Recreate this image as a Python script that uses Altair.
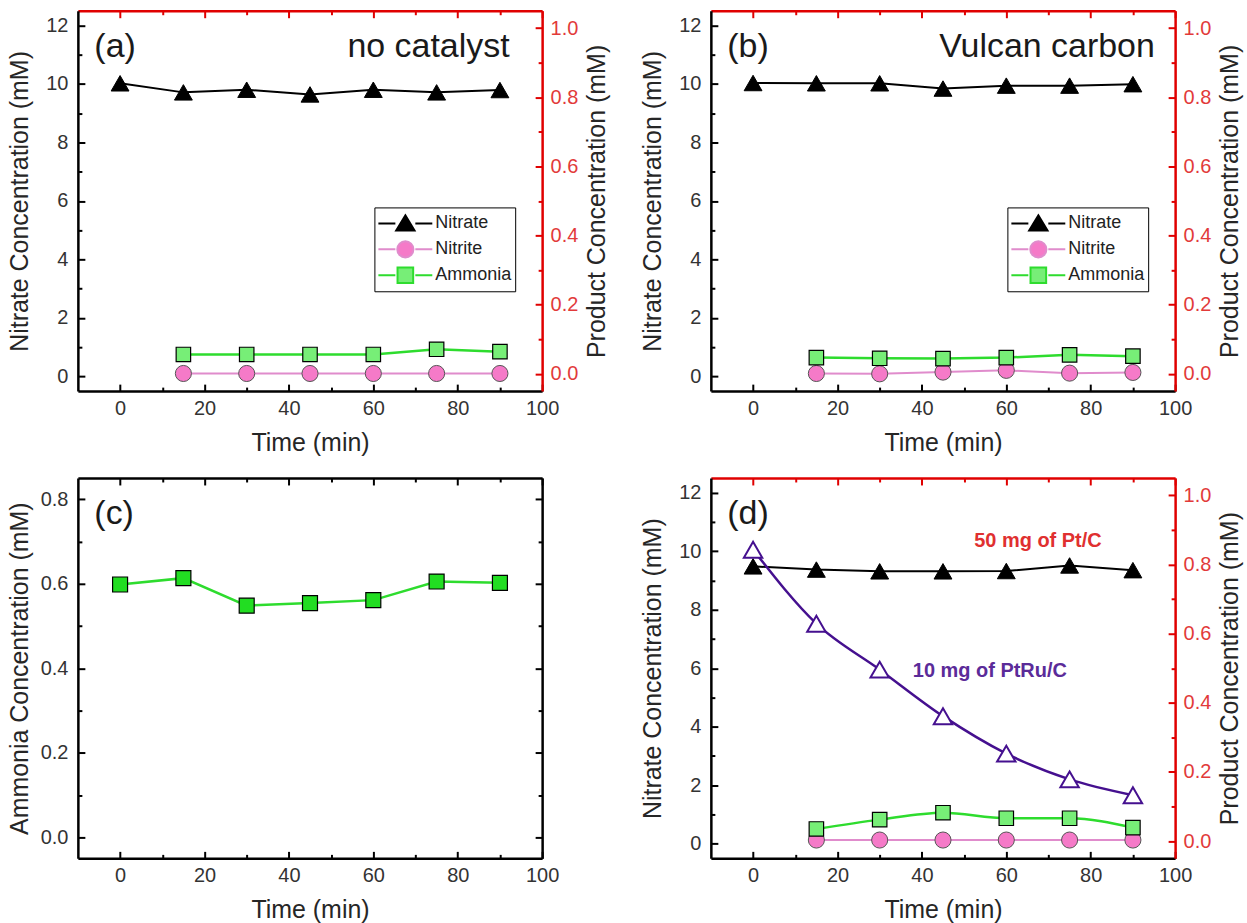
import altair as alt
import pandas as pd

# ---------------- data ----------------
TIME = [0, 15, 30, 45, 60, 75, 90]
TIME_PRODUCT = [15, 30, 45, 60, 75, 90]

A_NITRATE = [10.02, 9.71, 9.80, 9.64, 9.80, 9.71, 9.79]
A_NITRITE = [0.001, 0.001, 0.001, 0.001, 0.001, 0.001]
A_AMMONIA = [0.056, 0.056, 0.056, 0.056, 0.071, 0.064]

B_NITRATE = [10.03, 10.02, 10.02, 9.84, 9.94, 9.94, 9.99]
B_NITRITE = [0.001, 0.0, 0.005, 0.010, 0.002, 0.004]
B_AMMONIA = [0.047, 0.045, 0.044, 0.047, 0.055, 0.051]

C_AMMONIA = [0.598, 0.613, 0.548, 0.554, 0.561, 0.605, 0.602]

D_NITRATE_PT = [9.48, 9.37, 9.31, 9.31, 9.32, 9.51, 9.35]
D_NITRATE_PTRU = [10.05, 7.52, 5.95, 4.36, 3.08, 2.20, 1.66]
D_NITRITE = [0.003, 0.003, 0.003, 0.003, 0.003, 0.003]
D_AMMONIA = [0.035, 0.062, 0.082, 0.066, 0.066, 0.039]

SERIES = ["Nitrate", "Nitrite", "Ammonia"]

X_MAJOR = [0, 20, 40, 60, 80, 100]
X_MINOR = [10, 30, 50, 70, 90]
N_MAJOR = [0, 2, 4, 6, 8, 10, 12]
N_MINOR = [1, 3, 5, 7, 9, 11]
P_MAJOR = [0.0, 0.2, 0.4, 0.6, 0.8, 1.0]
P_MINOR = [0.1, 0.3, 0.5, 0.7, 0.9]
C_MAJOR = [0.0, 0.2, 0.4, 0.6, 0.8]
C_MINOR = [0.1, 0.3, 0.5, 0.7]

# ---------------- style ----------------
FONT = "Liberation Sans"
W, H = 465, 381
X_DOM = [-10, 100]
N_DOM = [-0.5, 12.5]
P_DOM = [-0.05, 1.05]
C_DOM = [-0.05, 0.85]

BLACK = "#000000"
RED = "#e00000"
RED_LABEL = "#e23a3a"
LABEL = "#333333"
TITLE = "#262626"
PINK_LINE = "#e08ccc"
PINK_FILL = "#f57ac8"
GREEN_LINE = "#2edc2e"
GREEN_FILL = "#77ee77"
GREEN_C = "#22dd22"
PURPLE = "#45108f"
PURPLE_TEXT = "#5b2b99"
RED_TEXT = "#e03030"

MAJ, MIN = 7, 4


def sc(dom):
    return alt.Scale(domain=dom, nice=False, zero=False)


def frame(xs, ys):
    return pd.DataFrame({"t": xs, "v": ys})


ONE = pd.DataFrame({"k": [0]})


def major_axis(orient, values, color, fmt=None, label_color=None, title=None, pad=8, tpos=None):
    kw = dict(orient=orient, values=values, offset=-MAJ, tickSize=MAJ, tickWidth=2,
              tickColor=color, domain=False, grid=False)
    if label_color:
        kw.update(labels=True, format=fmt, labelFont=FONT, labelFontSize=20,
                  labelColor=label_color, labelPadding=pad, labelFlush=False,
                  labelOverlap=False)
    else:
        kw.update(labels=False)
    if title:
        kw.update(title=title, titleFont=FONT, titleFontSize=25, titleFontWeight="normal",
                  titleColor=TITLE)
        kw.update(tpos)
    else:
        kw["title"] = None
    return alt.Axis(**kw)


def minor_axis(orient, values, color):
    return alt.Axis(orient=orient, values=values, offset=-MIN, tickSize=MIN, tickWidth=2,
                    tickColor=color, domain=False, grid=False, labels=False, title=None)


def domain_axis(orient, color):
    return alt.Axis(orient=orient, domain=True, domainColor=color, domainWidth=2.5,
                    ticks=False, labels=False, grid=False, title=None)


LEFT_T = dict(titleX=-57, titleAngle=-90, titleBaseline="alphabetic", titleAlign="center")
RIGHT_T = dict(titleX=69, titleAngle=-90, titleBaseline="alphabetic", titleAlign="center")
BOTTOM_T = dict(titleY=66, titleBaseline="alphabetic", titleAlign="center")


def axis_layers(data, ys, side, color, ymaj, ymin, yfmt=None, ylab=None, ytitle=None):
    if side == "left":
        yo, xo = "left", "bottom"
        ymj = major_axis(yo, ymaj, color, yfmt, ylab, ytitle, 10, LEFT_T)
        xmj = major_axis(xo, X_MAJOR, color, "d", LABEL, "Time (min)", 7, BOTTOM_T)
    else:
        yo, xo = "right", "top"
        ymj = major_axis(yo, ymaj, color, yfmt, ylab, ytitle, 8, RIGHT_T)
        xmj = major_axis(xo, X_MAJOR, color)
    pairs = [
        (xmj, ymj),
        (minor_axis(xo, X_MINOR, color), minor_axis(yo, ymin, color)),
        (domain_axis(xo, color), domain_axis(yo, color)),
    ]
    out = []
    for xa, ya in pairs:
        out.append(
            alt.Chart(data).mark_point(opacity=0).encode(
                x=alt.X("t:Q", scale=sc(X_DOM), axis=xa),
                y=alt.Y("v:Q", scale=ys, axis=ya),
            )
        )
    return out


def line(data, ys, color, width, interp="linear"):
    return alt.Chart(data).mark_line(color=color, strokeWidth=width, interpolate=interp).encode(
        x=alt.X("t:Q", scale=sc(X_DOM), axis=None),
        y=alt.Y("v:Q", scale=ys, axis=None),
    )


def pts(data, ys, shape, size, fill, stroke, sw):
    return alt.Chart(data).mark_point(
        shape=shape, size=size, filled=True, fill=fill, stroke=stroke, strokeWidth=sw, opacity=1
    ).encode(
        x=alt.X("t:Q", scale=sc(X_DOM), axis=None),
        y=alt.Y("v:Q", scale=ys, axis=None),
    )


def text(txt, x, y, ys, size, color, align, weight="normal", baseline="alphabetic"):
    return alt.Chart(ONE).mark_text(
        text=txt, font=FONT, fontSize=size, color=color, align=align,
        baseline=baseline, fontWeight=weight,
    ).encode(
        x=alt.XDatum(x, scale=sc(X_DOM), axis=None),
        y=alt.YDatum(y, scale=ys, axis=None),
    )


SEG = "M-1,0H-0.37M0.37,0H1"
PATHS = [
    SEG + "M0,-0.3L0.34,0.26L-0.34,0.26Z",
    SEG + "M-0.3,0A0.3,0.3,0,1,0,0.3,0A0.3,0.3,0,1,0,-0.3,0Z",
    SEG + "M-0.29,-0.29H0.29V0.29H-0.29Z",
]


def legend_layer():
    leg = alt.Legend(
        title=None, orient="none", legendX=297, legendY=197, direction="vertical",
        strokeColor=BLACK, fillColor="white", padding=3, rowPadding=0, clipHeight=26,
        symbolSize=2916, symbolStrokeWidth=2, symbolOpacity=1, labelFont=FONT,
        labelFontSize=18, labelColor="#222222", labelOffset=2,
    )
    return alt.Chart(pd.DataFrame({"s": SERIES})).mark_point(filled=True, opacity=0).encode(
        shape=alt.Shape("s:N", scale=alt.Scale(domain=SERIES, range=PATHS), legend=leg),
        fill=alt.Fill("s:N", scale=alt.Scale(domain=SERIES, range=[BLACK, PINK_FILL, GREEN_FILL]), legend=leg),
        stroke=alt.Stroke("s:N", scale=alt.Scale(domain=SERIES, range=[BLACK, PINK_LINE, GREEN_LINE]), legend=leg),
    )


IND = dict(x="independent", y="independent")


def product_panel(nitrate, nitrite, ammonia, tag, label=None, label_x=None, legend=True, extra=None):
    ns, ps = sc(N_DOM), sc(P_DOM)
    dn = frame(TIME, nitrate)
    dnt = frame(TIME_PRODUCT, nitrite)
    dam = frame(TIME_PRODUCT, ammonia)
    left_layers = axis_layers(dn, ns, "left", BLACK, N_MAJOR, N_MINOR, "d", LABEL,
                              "Nitrate Concentration (mM)")
    left_layers += [line(dn, ns, BLACK, 2), pts(dn, ns, "triangle-up", 320, BLACK, BLACK, 1)]
    if extra is not None:
        left_layers += extra(ns)
    left_layers.append(text(tag, -6.1, 10.93, ns, 34, "#1a1a1a", "left"))
    if label:
        left_layers.append(text(label, label_x, 10.93, ns, 34, "#1a1a1a", "right"))
    left = alt.layer(*left_layers).resolve_axis(**IND)

    right_layers = axis_layers(dam, ps, "right", RED, P_MAJOR, P_MINOR, ".1f", RED_LABEL,
                               "Product Concentration (mM)")
    interp = "monotone" if extra is not None else "linear"
    right_layers += [
        line(dnt, ps, PINK_LINE, 2),
        line(dam, ps, GREEN_LINE, 2.5, interp),
        pts(dnt, ps, "circle", 260, PINK_FILL, "#555555", 1),
        pts(dam, ps, "square", 210, GREEN_FILL, BLACK, 1.2),
    ]
    if legend:
        right_layers.append(legend_layer())
    right = alt.layer(*right_layers).resolve_axis(**IND)
    return (
        alt.layer(left, right)
        .resolve_scale(y="independent")
        .resolve_axis(**IND)
        .properties(width=W, height=H)
    )


def ptru_layers(ns):
    dr = frame(TIME, D_NITRATE_PTRU)
    return [
        line(dr, ns, PURPLE, 2.5, "monotone"),
        pts(dr, ns, "triangle-up", 340, "white", PURPLE, 2),
        text("50 mg of Pt/C", 67.5, 10.36, ns, 20, RED_TEXT, "center", "bold", "middle"),
        text("10 mg of PtRu/C", 56.1, 5.92, ns, 20, PURPLE_TEXT, "center", "bold", "middle"),
    ]


panel_a = product_panel(A_NITRATE, A_NITRITE, A_AMMONIA, "(a)", "no catalyst", 92.3)
panel_b = product_panel(B_NITRATE, B_NITRITE, B_AMMONIA, "(b)", "Vulcan carbon", 95.2)
panel_d = product_panel(D_NITRATE_PT, D_NITRITE, D_AMMONIA, "(d)", legend=False, extra=ptru_layers)

# panel c: ammonia only, mirrored black frame
cs = sc(C_DOM)
dc = frame(TIME, C_AMMONIA)
c_layers = axis_layers(dc, cs, "left", BLACK, C_MAJOR, C_MINOR, ".1f", LABEL,
                       "Ammonia Concentration (mM)")
c_layers += axis_layers(dc, cs, "right", BLACK, C_MAJOR, C_MINOR)
c_layers += [
    line(dc, cs, GREEN_LINE, 2.5),
    pts(dc, cs, "square", 225, GREEN_C, BLACK, 1.2),
    text("(c)", -6.1, 0.741, cs, 34, "#1a1a1a", "left"),
]
panel_c = alt.layer(*c_layers).resolve_axis(**IND).properties(width=W, height=H)

chart = (
    alt.concat(panel_a, panel_b, panel_c, panel_d, columns=2,
               spacing={"row": 87, "column": 169}, bounds="flush")
    .resolve_scale(shape="independent", fill="independent", stroke="independent")
    .resolve_legend(shape="independent", fill="independent", stroke="independent")
    .properties(padding={"left": 8, "top": 9, "right": 5, "bottom": 5}, background="white")
    .configure_view(stroke=None)
)

chart.save("out.html", embed_options={"renderer": "svg", "actions": False})
